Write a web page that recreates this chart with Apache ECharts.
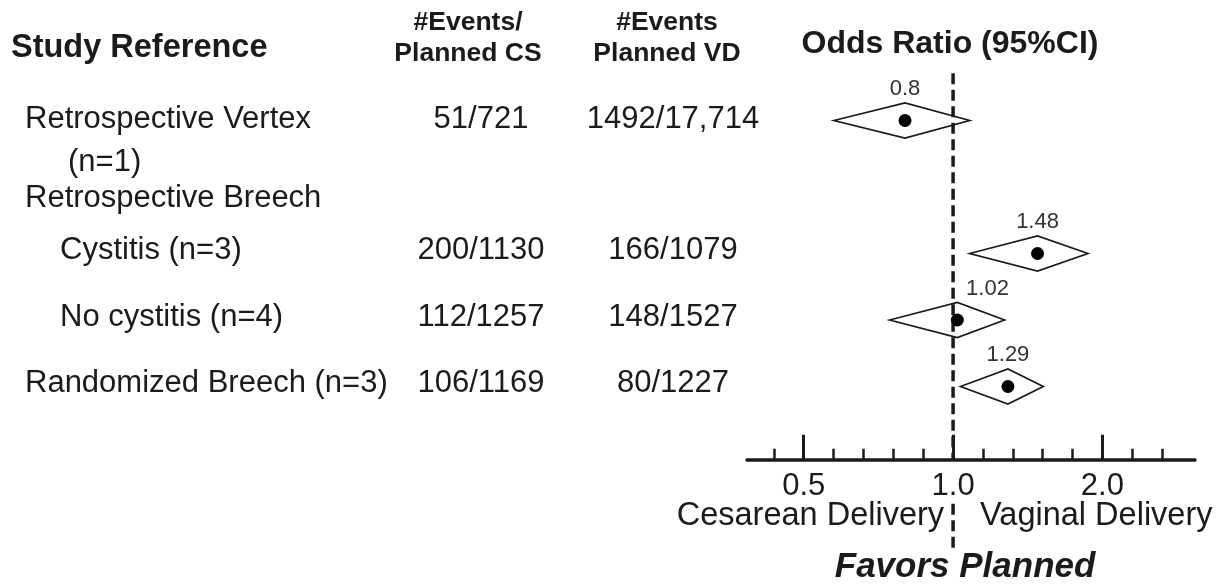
<!DOCTYPE html>
<html>
<head>
<meta charset="utf-8">
<script src="https://cdn.jsdelivr.net/npm/echarts@6/dist/echarts.min.js"></script>
<style>
  html, body { margin: 0; padding: 0; background: #fff; }
  #chart { width: 1228px; height: 586px; }
</style>
</head>
<body>
<div id="chart"></div>
<script>
// Forest plot: events after planned cesarean (CS) vs planned vaginal delivery (VD)

const studyRows = ['Retrospective Vertex', 'Retrospective Breech', 'Cystitis (n=3)', 'No cystitis (n=4)', 'Randomized Breech (n=3)'];
const studyNotes = ['(n=1)', '', '', '', ''];
const rowLevel = [0, 0, 1, 1, 0];
const eventsCS = ['51/721', '', '200/1130', '112/1257', '106/1169'];
const eventsVD = ['1492/17,714', '', '166/1079', '148/1527', '80/1227'];
const oddsRatio = [0.8, null, 1.48, 1.02, 1.29];
const ciLower = [0.575, null, 1.08, 0.745, 1.035];
const ciUpper = [1.08, null, 1.87, 1.27, 1.52];
const axisTickValues = [0.5, 1.0, 2.0];
const axisTickLabels = ['0.5', '1.0', '2.0'];
const columnTitles = ['Study Reference', '#Events/\nPlanned CS', '#Events\nPlanned VD', 'Odds Ratio (95%CI)'];
const sideLabels = ['Cesarean Delivery', 'Vaginal Delivery'];
const favorsTitle = 'Favors Planned';

const FONT = '"Liberation Sans", Arial, Helvetica, sans-serif';
const INK = '#1b1b1b';
const log2 = Math.log2;

// odds ratios are placed on a log2 scale
const X_MIN = -1.38, X_MAX = 1.62;
const AXIS_OFFSET = 40;
const majorTicks = axisTickValues.map(log2);
const minorTicks = [];
for (let k = -6; k <= 7; k++) { if (k % 5 !== 0) minorTicks.push(k / 5); }

const forestData = [];
oddsRatio.forEach((or, i) => {
  if (or == null) return;
  forestData.push([log2(ciLower[i]), log2(or), log2(ciUpper[i]), i, or]);
});
const dotData = forestData.map(d => [d[1], d[3]]);

const COL_CS = 481, COL_VD = 673;
const BODY_SIZE = 31;

const chart = echarts.init(document.getElementById('chart'));

function title(text, x, y, size, align, extra) {
  return {
    type: 'text', x, y,
    style: Object.assign({
      text, fontSize: size, fontWeight: 'bold', fontFamily: FONT, fill: INK,
      align, textAlign: align, verticalAlign: 'middle', textVerticalAlign: 'middle'
    }, extra || {})
  };
}

const option = {
  animation: false,
  backgroundColor: '#fff',
  grid: { left: 747, right: 33, top: 87.25, bottom: 166.25, containLabel: false, outerBoundsMode: 'none' },
  xAxis: [
    {
      type: 'value', min: X_MIN, max: X_MAX, position: 'bottom', offset: AXIS_OFFSET,
      axisLine: { show: true, lineStyle: { color: INK, width: 3.5 } },
      axisTick: { show: true, inside: true, length: 11, customValues: minorTicks, lineStyle: { color: INK, width: 2.5 } },
      axisLabel: { show: false },
      splitLine: { show: false }
    },
    {
      type: 'value', min: X_MIN, max: X_MAX, position: 'bottom', offset: AXIS_OFFSET,
      axisLine: { show: false },
      axisTick: { show: true, inside: true, length: 25, customValues: majorTicks, lineStyle: { color: INK, width: 3 } },
      axisLabel: {
        show: true, customValues: majorTicks, margin: 9,
        fontSize: 31, fontFamily: FONT, color: INK, backgroundColor: '#fff', padding: [2, 2],
        formatter: v => {
          const i = majorTicks.findIndex(t => Math.abs(t - v) < 1e-9);
          return i >= 0 ? axisTickLabels[i] : '';
        }
      },
      splitLine: { show: false }
    }
  ],
  yAxis: {
    type: 'category', inverse: true, data: studyRows, show: false
  },
  graphic: [
    title(columnTitles[0], 11, 48, 32.5, 'left'),
    title(columnTitles[1], 468, 38, 26.5, 'center', { lineHeight: 31 }),
    title(columnTitles[2], 667, 38, 26.5, 'center', { lineHeight: 31 }),
    title(columnTitles[3], 950, 44, 32, 'center')
  ],
  series: [
    {
      // confidence-interval diamonds with the odds-ratio label above
      type: 'custom', name: 'ci', coordinateSystem: 'cartesian2d', z: 2, clip: false, silent: true,
      data: forestData,
      renderItem(params, api) {
        const row = api.value(3);
        const lo = api.coord([api.value(0), row]);
        const mid = api.coord([api.value(1), row]);
        const hi = api.coord([api.value(2), row]);
        const ref = api.coord([0, row])[0];
        const y = mid[1];
        const h = 17.5;
        const text = String(api.value(4));
        const w = text.length * 0.56 * 22;
        let lx = mid[0], align = 'center';
        if (mid[0] - w / 2 < ref + 4 && mid[0] + w / 2 > ref - 4) { lx = ref + 13; align = 'left'; }
        return {
          type: 'group',
          children: [
            {
              type: 'polygon',
              shape: { points: [[lo[0], y], [mid[0], y - h], [hi[0], y], [mid[0], y + h]] },
              style: { fill: '#fff', stroke: INK, lineWidth: 1.7 }
            },
            {
              type: 'text', x: lx, y: y - h - 3,
              style: { text, fontSize: 22, fontFamily: FONT, fill: '#333', align, verticalAlign: 'bottom', textAlign: align, textVerticalAlign: 'bottom' }
            }
          ]
        };
      }
    },
    {
      // line of no effect, with the direction captions below the axis
      type: 'custom', name: 'ref', coordinateSystem: 'cartesian2d', z: 3, clip: false, silent: true,
      data: [[0, 0]],
      renderItem(params, api) {
        const x = api.coord([0, 0])[0];
        const cs = params.coordSys;
        const axisY = cs.y + cs.height + AXIS_OFFSET;
        const dash = { stroke: INK, lineWidth: 3.5, lineDash: [11, 5.5] };
        const cap = { fontSize: 32.5, fontFamily: FONT, fill: INK, verticalAlign: 'middle', textVerticalAlign: 'middle' };
        return {
          type: 'group',
          children: [
            { type: 'line', shape: { x1: x, y1: cs.y - 14, x2: x, y2: axisY }, style: dash },
            { type: 'line', shape: { x1: x, y1: axisY + 44, x2: x, y2: axisY + 89 }, style: dash },
            { type: 'text', x: x - 9, y: axisY + 56, style: Object.assign({ text: sideLabels[0], align: 'right', textAlign: 'right' }, cap) },
            { type: 'text', x: x + 27, y: axisY + 56, style: Object.assign({ text: sideLabels[1], align: 'left', textAlign: 'left' }, cap) },
            {
              type: 'text', x: x + 12, y: axisY + 108,
              style: Object.assign({}, cap, { text: favorsTitle, align: 'center', textAlign: 'center', fontWeight: 'bold', fontStyle: 'italic', fontSize: 35 })
            }
          ]
        };
      }
    },
    {
      // point estimates
      type: 'scatter', name: 'or', z: 4, silent: true,
      symbol: 'circle', symbolSize: 13,
      itemStyle: { color: '#000', opacity: 1 },
      data: dotData
    },
    {
      // study table: names and event counts per arm
      type: 'custom', name: 'table', coordinateSystem: 'cartesian2d', z: 5, clip: false, silent: true,
      data: studyRows.map((_, i) => [0, i]),
      renderItem(params, api) {
        const i = api.value(1);
        const rowY = api.coord([0, i])[1];
        const y = i === 0 ? rowY - 1 : rowY - 3;
        const base = { fontSize: BODY_SIZE, fontFamily: FONT, fill: INK, verticalAlign: 'middle', textVerticalAlign: 'middle' };
        const isGroup = eventsCS[i] === '';
        const ty = isGroup ? rowY + 11 : y;
        const children = [
          { type: 'text', x: 25 + rowLevel[i] * 35, y: ty, style: Object.assign({ text: studyRows[i], align: 'left', textAlign: 'left' }, base) }
        ];
        if (studyNotes[i]) {
          children.push({ type: 'text', x: 68, y: rowY + 42, style: Object.assign({ text: studyNotes[i], align: 'left', textAlign: 'left' }, base) });
        }
        if (eventsCS[i]) {
          children.push({ type: 'text', x: COL_CS, y, style: Object.assign({ text: eventsCS[i], align: 'center', textAlign: 'center' }, base) });
        }
        if (eventsVD[i]) {
          children.push({ type: 'text', x: COL_VD, y, style: Object.assign({ text: eventsVD[i], align: 'center', textAlign: 'center' }, base) });
        }
        return { type: 'group', children };
      }
    }
  ]
};

chart.setOption(option);
</script>
</body>
</html>
